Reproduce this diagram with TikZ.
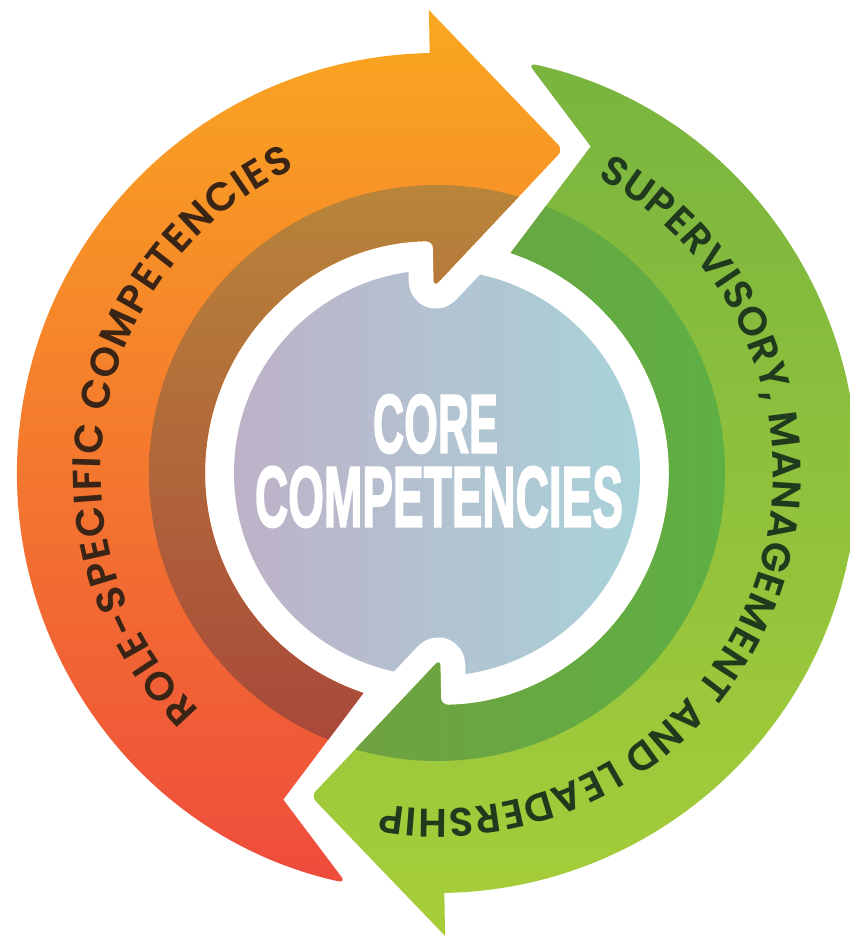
\documentclass[tikz,border=0pt]{standalone}
\usepackage{fontspec}
\usepackage{graphicx}
\usetikzlibrary{decorations.text}
\newfontfamily\arcfont{Poppins}[UprightFont={* SemiBold}, BoldFont={* SemiBold}]
\newfontfamily\corefont{Liberation Sans}[FakeBold=2.5]
\definecolor{oTop}{HTML}{FAA820}
\definecolor{oMid}{HTML}{F38A30}
\definecolor{oBot}{HTML}{EE4A3C}
\definecolor{bTop}{HTML}{B8853A}
\definecolor{bMid}{HTML}{B1643A}
\definecolor{bBot}{HTML}{A8463A}
\definecolor{gTop}{HTML}{78B43F}
\definecolor{gBot}{HTML}{A7CE39}
\definecolor{dgL}{HTML}{7A9A40}
\definecolor{dgR}{HTML}{5EAF44}
\definecolor{cL}{HTML}{BEB2C8}
\definecolor{cR}{HTML}{A8D2D9}
\definecolor{oText}{HTML}{3A2415}
\definecolor{gText}{HTML}{1F3A1C}
\tikzset{
  carve/.style={draw=white, line width=50pt, line join=round, rounded corners=7pt},
  arctext/.style={decorate, decoration={text along path, text align=fit to path, text color=#1}},
  coretext/.style={inner sep=0pt, text=white}
}
\begin{document}
\begin{tikzpicture}[x=1pt,y=1pt]
\useasboundingbox (0,0) rectangle (849,940);
\fill[white] (0,0) rectangle (849,940);
\begin{scope}[shift={(437,467)}]
  % central circle
  \shade[left color=cL, right color=cR] (0,0) circle[radius=203];
  % white gaps carved around the arrow heads
  \path[carve] (91:463) -- (68.7:347) -- (91:186) -- cycle;
  \path[carve] (-89:463) -- (-111.3:347) -- (-89:186) -- cycle;
  % orange arrow
  \begin{scope}
    \clip (257.5:420) arc[start angle=257.5, end angle=91, radius=420]
      -- (91:463) [rounded corners=7pt] -- (68.7:347) -- (91:186) -- (91:232)
      [sharp corners] arc[start angle=91, end angle=251.5, radius=232]
      -- (244.8:361) [rounded corners=8pt] -- cycle;
    \shade[top color=oTop, middle color=oMid, bottom color=oBot] (-440,-425) rectangle (440,465);
    \shade[top color=bTop, middle color=bMid, bottom color=bBot] (0,0) circle[radius=288];
  \end{scope}
  % green arrow
  \begin{scope}
    \clip (77.5:420) arc[start angle=77.5, end angle=-89, radius=420]
      -- (-89:463) [rounded corners=7pt] -- (-111.3:347) -- (-89:186) -- (-89:232)
      [sharp corners] arc[start angle=-89, end angle=71.5, radius=232]
      -- (64.8:361) [rounded corners=8pt] -- cycle;
    \shade[top color=gTop, bottom color=gBot] (-440,-465) rectangle (440,425);
    \shade[left color=dgL, right color=dgR] (0,0) circle[radius=288];
  \end{scope}
  % curved labels
  \path[arctext=oText, decoration={text={|\arcfont\fontsize{40}{44}\selectfont|ROLE-SPECIFIC COMPETENCIES}}]
    (225:336) arc[start angle=225, end angle=115, radius=336];
  \path[arctext=gText, decoration={text={|\arcfont\fontsize{40}{44}\selectfont|SUPERVISORY, MANAGEMENT AND LEADERSHIP}}]
    (61.5:336) arc[start angle=61.5, end angle=-99.5, radius=336];
  % centre text
  \node[coretext] (core) at (-1.5,49) {\resizebox{125pt}{58pt}{\corefont\bfseries CORE}};
  \node[coretext] (comp) at (2,-24) {\resizebox{368pt}{60pt}{\corefont\bfseries COMPETENCIES}};
\end{scope}
\end{tikzpicture}
\end{document}
